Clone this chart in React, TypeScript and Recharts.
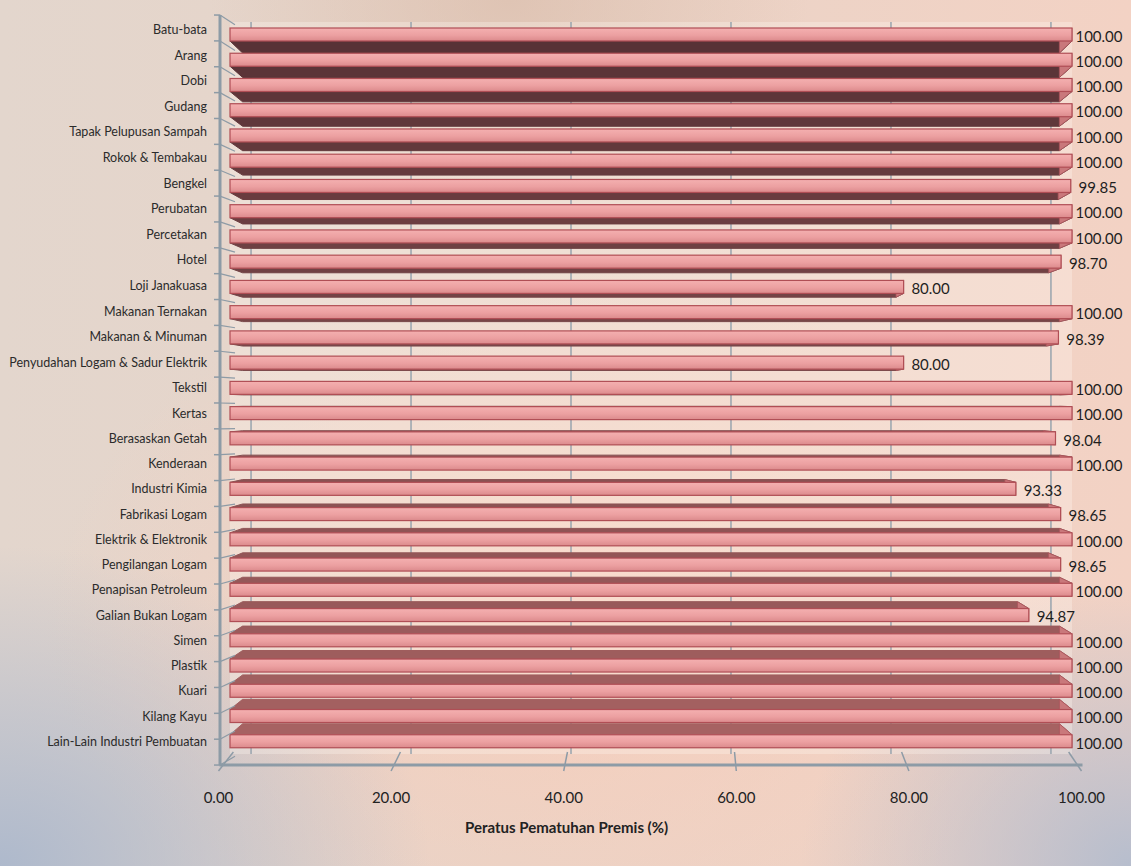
import { BarChart, Bar, XAxis, YAxis, CartesianGrid, LabelList } from "recharts";

const CATEGORIES = [
  "Batu-bata",
  "Arang",
  "Dobi",
  "Gudang",
  "Tapak Pelupusan Sampah",
  "Rokok & Tembakau",
  "Bengkel",
  "Perubatan",
  "Percetakan",
  "Hotel",
  "Loji Janakuasa",
  "Makanan Ternakan",
  "Makanan & Minuman",
  "Penyudahan Logam & Sadur Elektrik",
  "Tekstil",
  "Kertas",
  "Berasaskan Getah",
  "Kenderaan",
  "Industri Kimia",
  "Fabrikasi Logam",
  "Elektrik & Elektronik",
  "Pengilangan Logam",
  "Penapisan Petroleum",
  "Galian Bukan Logam",
  "Simen",
  "Plastik",
  "Kuari",
  "Kilang Kayu",
  "Lain-Lain Industri Pembuatan",
];

const COMPLIANCE = [
  100, 100, 100, 100, 100, 100, 99.85, 100, 100, 98.7, 80, 100, 98.39, 80, 100,
  100, 98.04, 100, 93.33, 98.65, 100, 98.65, 100, 94.87, 100, 100, 100, 100, 100,
];

const X_TICKS = [0, 20, 40, 60, 80, 100];
const AXIS_TITLE = "Peratus Pematuhan Premis (%)";

const data = CATEGORIES.map((name, i) => ({ name, value: COMPLIANCE[i] }));

// layout
const W = 1131;
const H = 866;
const PLOT_LEFT = 230;
const PLOT_RIGHT = 1072;
const PLOT_TOP = 22;
const PLOT_BOTTOM = 754;
const CX = (PLOT_LEFT + PLOT_RIGHT) / 2;
const BAND = (PLOT_BOTTOM - PLOT_TOP) / CATEGORIES.length;
const FONT = "Lato, 'Liberation Sans', sans-serif";

const mix = (a: number[], b: number[], t: number) =>
  `rgb(${a.map((v, k) => Math.round(v + (b[k] - v) * t)).join(",")})`;

// how far the hidden face shows, and in which direction, for a row
const depthOf = (index: number) => {
  const t = index / (CATEGORIES.length - 1);
  return { t, dy: 12 - 23 * t };
};

const Bar3D = (props: any) => {
  const { x, y, width, height, index } = props;
  if (width == null || width <= 0) return null;
  const { t, dy } = depthOf(index);
  const bx0 = CX + (x - CX) * 0.97;
  const bx1 = CX + (x + width - CX) * 0.97;
  const edge = dy > 0 ? y + height : y;
  const dark = mix([88, 50, 54], [166, 98, 98], t);
  const depth = `${x},${edge} ${x + width},${edge} ${bx1},${edge + dy} ${bx0},${edge + dy}`;
  const side = `${x + width},${y} ${x + width},${y + height} ${bx1},${y + height + dy} ${bx1},${y + dy}`;
  return (
    <g>
      <polygon points={depth} fill={dark} stroke={dark} strokeWidth={1} />
      <polygon points={side} fill="#c9787b" stroke="#a9545a" strokeWidth={0.8} />
      <rect
        x={x}
        y={y}
        width={width}
        height={height}
        fill="url(#faceGrad)"
        stroke="#b04e55"
        strokeWidth={1.2}
      />
    </g>
  );
};

const YTick = (props: any) => {
  const { y, payload, index } = props;
  const shift = index < 14 ? (-5 * (14 - index)) / 14 : 0;
  const { dy } = depthOf(index);
  const yb = y + BAND / 2;
  const ya = yb * 1.0246 - 7.5;
  const ytop = (y - BAND / 2) * 1.0246 - 7.5;
  return (
    <g>
      {index === 0 && (
        <g>
          <line x1={214} y1={ytop} x2={220} y2={ytop} stroke="#8d9ba6" strokeWidth={1.5} />
          <line x1={220} y1={ytop} x2={235} y2={ytop + dy * 0.8} stroke="#8d9ba6" strokeWidth={1.2} />
        </g>
      )}
      <line x1={214} y1={ya} x2={220} y2={ya} stroke="#8d9ba6" strokeWidth={1.5} />
      <line x1={220} y1={ya} x2={235} y2={ya + dy * 0.8} stroke="#8d9ba6" strokeWidth={1.2} />
      <text
        x={207}
        y={y + shift}
        dy="0.35em"
        textAnchor="end"
        fontFamily={FONT}
        fontSize={12.5}
        fill="#2b2b2b"
      >
        {payload.value}
      </text>
    </g>
  );
};

const XTick = (props: any) => {
  const { x, y, payload } = props;
  const fx = CX + (x - CX) * 1.025 - 1;
  const bx = CX + (x - CX) * 0.992;
  return (
    <g>
      <line x1={fx} y1={y + 9} x2={bx} y2={y - 10} stroke="#8d9ba6" strokeWidth={1.5} />
      <text
        x={fx}
        y={y + 41}
        textAnchor="middle"
        fontFamily={FONT}
        fontSize={15}
        fill="#222"
      >
        {Number(payload.value).toFixed(2)}
      </text>
    </g>
  );
};

const ValueLabel = (props: any) => {
  const { x, y, width, height, value } = props;
  return (
    <text
      x={x + width + 27}
      y={y + height / 2 + 2}
      dy="0.35em"
      textAnchor="middle"
      fontFamily={FONT}
      fontSize={15}
      fill="#1e1e1e"
    >
      {Number(value).toFixed(2)}
    </text>
  );
};

export default function App() {
  return (
    <div
      style={{
        position: "absolute",
        left: 0,
        top: 0,
        width: W,
        height: H,
        overflow: "hidden",
        background: [
          "radial-gradient(ellipse 430px 320px at 0% 100%, rgba(168,182,204,0.9), rgba(168,182,204,0) 100%)",
          "radial-gradient(ellipse 330px 280px at 100% 100%, rgba(172,186,207,0.85), rgba(172,186,207,0) 100%)",
          "radial-gradient(ellipse 520px 360px at 50% 72%, rgba(252,204,184,0.75), rgba(252,204,184,0) 100%)",
          "radial-gradient(ellipse 300px 200px at 45% 0%, rgba(214,180,160,0.5), rgba(214,180,160,0) 100%)",
          "linear-gradient(90deg, #e3d6cd 0%, #e8d4c8 45%, #f3d2c4 100%)",
        ].join(","),
      }}
    >
      <BarChart
        width={W}
        height={H}
        data={data}
        layout="vertical"
        margin={{ top: PLOT_TOP, right: W - PLOT_RIGHT, bottom: 0, left: 0 }}
        barCategoryGap={0}
      >
        <defs>
          <linearGradient id="faceGrad" x1="0" y1="0" x2="0" y2="1">
            <stop offset="0%" stopColor="#f4b0b0" />
            <stop offset="55%" stopColor="#eca0a1" />
            <stop offset="100%" stopColor="#db8a8c" />
          </linearGradient>
        </defs>
        <CartesianGrid
          horizontal={false}
          stroke="#98a4ae"
          strokeWidth={1.5}
          fill="rgba(255,248,242,0.3)"
          verticalCoordinatesGenerator={({ offset }: any) => {
            const left = offset?.left ?? PLOT_LEFT;
            const w = offset?.width ?? PLOT_RIGHT - PLOT_LEFT;
            const c = left + w / 2;
            return X_TICKS.map((v) => c + (left + (v / 100) * w - c) * 0.95);
          }}
        />
        <XAxis
          type="number"
          domain={[0, 100]}
          ticks={X_TICKS}
          height={H - PLOT_BOTTOM}
          tick={<XTick />}
          tickLine={false}
          tickSize={6}
          tickMargin={2}
          axisLine={{ stroke: "#8d9ba6", strokeWidth: 3, transform: "matrix(1.025 0 0 1 -16.3 11)" }}
        />
        <YAxis
          type="category"
          dataKey="name"
          width={PLOT_LEFT}
          interval={0}
          tick={<YTick />}
          tickLine={false}
          tickSize={6}
          tickMargin={2}
          axisLine={{ stroke: "#8d9ba6", strokeWidth: 3, transform: "matrix(1 0 0 1.0246 -10 -7.5)" }}
        />
        <Bar dataKey="value" barSize={13} shape={<Bar3D />} isAnimationActive={false}>
          <LabelList dataKey="value" content={<ValueLabel />} />
        </Bar>
      </BarChart>
      <div
        style={{
          position: "absolute",
          left: 465,
          top: 818,
          width: 200,
          textAlign: "center",
          whiteSpace: "nowrap",
          fontFamily: FONT,
          fontWeight: 700,
          fontSize: 15,
          color: "#222",
        }}
      >
        {AXIS_TITLE}
      </div>
    </div>
  );
}
